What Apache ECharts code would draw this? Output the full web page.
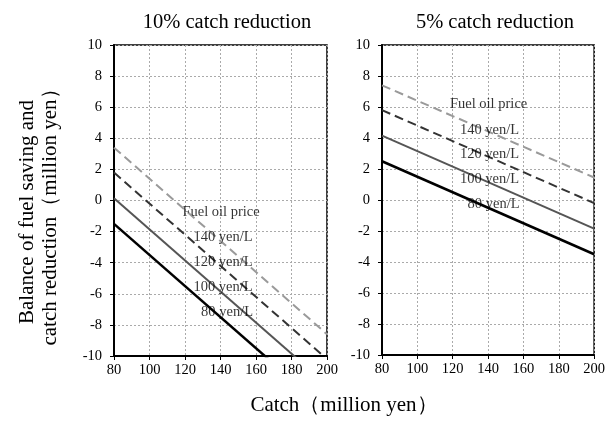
<!DOCTYPE html>
<html><head><meta charset="utf-8">
<script src="https://cdn.jsdelivr.net/npm/echarts@6/dist/echarts.min.js"></script>
<style>html,body{margin:0;padding:0;background:#fff}#c{width:608px;height:426px}</style>
</head><body><div id="c"></div>
<script>
// Data
const catchRange = [80, 200];
const priceNames = ['140 yen/L', '120 yen/L', '100 yen/L', '80 yen/L'];
// 10% catch reduction: balance at catch 80 and 200
const red10_140 = [3.4, -8.6];
const red10_120 = [1.8, -10.2];
const red10_100 = [0.15, -11.85];
const red10_80 = [-1.5, -13.5];
// 5% catch reduction
const red5_140 = [7.4, 1.45];
const red5_120 = [5.8, -0.2];
const red5_100 = [4.15, -1.85];
const red5_80 = [2.5, -3.5];
const xTicks = [80, 100, 120, 140, 160, 180, 200];
const yTicks = [-10, -8, -6, -4, -2, 0, 2, 4, 6, 8, 10];

const FONT = 'Liberation Serif';
const styles = [
  {color: '#9a9a9a', type: [9, 5], width: 2},
  {color: '#333333', type: [9, 5], width: 2},
  {color: '#555555', type: 'solid', width: 2},
  {color: '#000000', type: 'solid', width: 2.5}
];
function pts(vals) { return catchRange.map((x, i) => [x, vals[i]]); }

const grids = [
  {left: 114, top: 45, width: 213, height: 311},
  {left: 382, top: 45, width: 215, height: 310}
];
function xAxis(i) {
  return {gridIndex: i, type: 'value', min: 80, max: 200, interval: 20,
    axisLine: {show: true, onZero: false, lineStyle: {color: '#000', width: 2}},
    axisTick: {show: true, length: 4, lineStyle: {color: '#000'}},
    axisLabel: {fontFamily: FONT, fontSize: 14.5, color: '#000', margin: 7},
    splitLine: {show: true, lineStyle: {color: '#aaa', type: [2, 2], width: 1}}};
}
function yAxis(i) {
  return {gridIndex: i, type: 'value', min: -10, max: 10, interval: 2,
    axisLine: {show: true, onZero: false, lineStyle: {color: '#000', width: 2}},
    axisTick: {show: true, length: 4, lineStyle: {color: '#000'}},
    axisLabel: {fontFamily: FONT, fontSize: 14.5, color: '#000', margin: 12},
    splitLine: {show: true, lineStyle: {color: '#aaa', type: [2, 2], width: 1}}};
}
const sets = [[red10_140, red10_120, red10_100, red10_80], [red5_140, red5_120, red5_100, red5_80]];
const series = [];
sets.forEach((set, g) => {
  set.forEach((vals, k) => {
    series.push({type: 'line', name: priceNames[k], xAxisIndex: g, yAxisIndex: g,
      data: pts(vals), showSymbol: false, symbol: 'none', clip: true,
      lineStyle: styles[k], z: 3});
  });
});
const annLeft = [[140.3, -0.74], [141.4, -2.35], [141.4, -3.95], [141.4, -5.56], [143.7, -7.17]];
const annRight = [[140.3, 6.19], [140.8, 4.52], [140.8, 2.97], [140.8, 1.35], [143.1, -0.26]];
const annTexts = ['Fuel oil price'].concat(priceNames);
[annLeft, annRight].forEach((pos, g) => {
  series.push({type: 'scatter', xAxisIndex: g, yAxisIndex: g, symbolSize: 0, z: 5,
    silent: true,
    data: pos.map((p, i) => ({value: p, name: annTexts[i]})),
    label: {show: true, position: 'inside', formatter: '{b}', fontFamily: FONT, fontSize: 14.5, color: '#000'}});
});

const chart = echarts.init(document.getElementById('c'), null, {renderer: 'canvas'});
chart.setOption({
  animation: false,
  backgroundColor: '#fff',
  title: [
    {text: '10% catch reduction', left: 222, top: 7, textAlign: 'center',
      textStyle: {fontFamily: FONT, fontSize: 20.5, fontWeight: 'normal', color: '#000'}},
    {text: '5% catch reduction', left: 490, top: 7, textAlign: 'center',
      textStyle: {fontFamily: FONT, fontSize: 20.5, fontWeight: 'normal', color: '#000'}}
  ],
  grid: grids.map(g => Object.assign({show: true, borderColor: '#000', borderWidth: 1.5, backgroundColor: 'transparent'}, g)),
  xAxis: [xAxis(0), xAxis(1)],
  yAxis: [yAxis(0), yAxis(1)],
  series: series,
  graphic: [
    {type: 'text', x: 344, y: 405,
      style: {text: 'Catch（million yen）', font: '21px "' + FONT + '"', fill: '#000', align: 'center', verticalAlign: 'middle'}},
    {type: 'text', x: 38.5, y: 212, rotation: Math.PI / 2,
      style: {text: 'Balance of fuel saving and\ncatch reduction（million yen）', font: '21px "' + FONT + '"', fill: '#000',
        align: 'center', verticalAlign: 'middle', lineHeight: 23}}
  ]
});
</script></body></html>
